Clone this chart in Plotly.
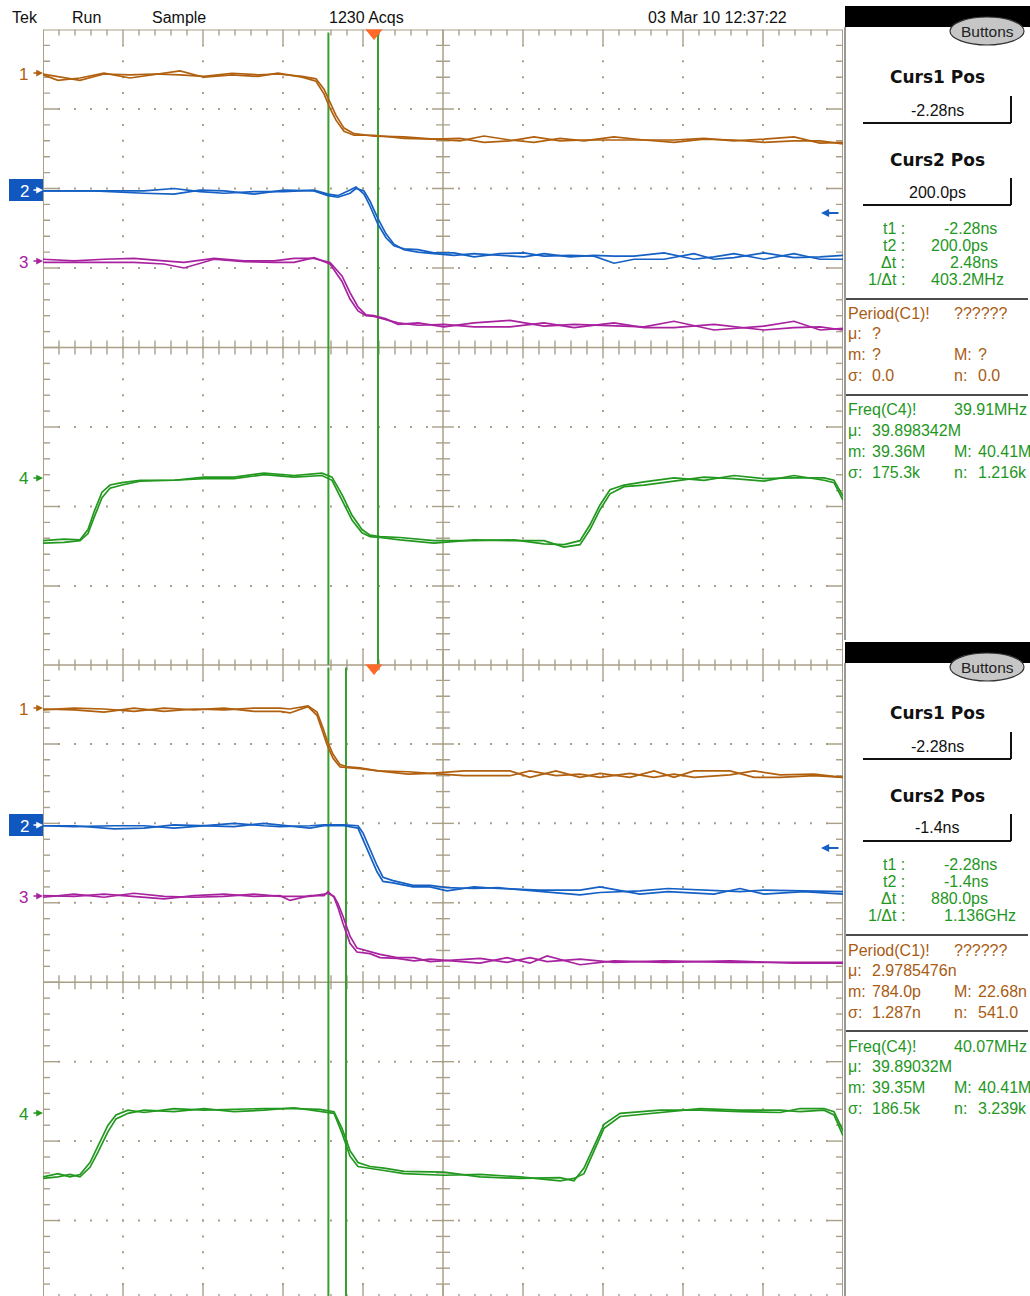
import plotly.graph_objects as go

W, H = 1030, 1296

# ---------------- scope settings (4 ns/div, trigger at t = 0) ----------------
T_LEFT, T_RIGHT = -16.55, 23.45
CH_POS = [3.44, 1.97, 1.08, -1.64]          # ground markers (div)
CURSOR_TOP = [-2.28, 0.200]                 # ns
CURSOR_BOT = [-2.28, -1.40]                 # ns
TRIGGER_T = 0.0
CH_NAMES = ["1", "2", "3", "4"]

# ---------------- waveform data (time in ns, level in div rel. to marker) ----------------
T1_TOP = [-16.55, -15.8, -14.7, -13.5, -12.2, -11.0, -9.7, -8.5, -7.1, -5.8, -4.8, -3.6, -2.9, -2.5, -2.2, -1.9,
          -1.5, -1.0, 0.0, 1.5, 3.0, 4.3, 5.5, 6.8, 8.0, 9.3, 10.5, 12.0, 13.5, 15.0, 16.5, 18.0, 19.5, 21.0, 22.3, 23.45]
CH1_TOP_A = [0, -0.03, -0.08, 0, -0.01, 0, -0.01, -0.03, 0.01, -0.01, 0, -0.03, -0.06, -0.19, -0.36, -0.52, -0.68,
             -0.75, -0.78, -0.79, -0.82, -0.84, -0.78, -0.83, -0.86, -0.81, -0.84, -0.79, -0.83, -0.83, -0.81, -0.84,
             -0.82, -0.79, -0.87, -0.86]
CH1_TOP_B = [-0.01, -0.08, -0.05, 0.01, -0.05, -0.01, 0.04, -0.04, -0.01, -0.03, 0.01, -0.04, -0.09, -0.25, -0.43,
             -0.58, -0.72, -0.77, -0.77, -0.81, -0.82, -0.81, -0.86, -0.84, -0.79, -0.84, -0.83, -0.83, -0.83, -0.86,
             -0.82, -0.83, -0.86, -0.84, -0.84, -0.88]

T2_TOP = [-16.55, -14.0, -11.5, -10.0, -8.7, -7.5, -6.0, -4.5, -3.0, -2.3, -1.8, -1.2, -0.9, -0.5, -0.2, 0.2, 0.6,
          1.0, 1.5, 2.2, 3.0, 4.0, 5.0, 6.3, 7.5, 8.5, 9.8, 11.0, 12.0, 13.0, 14.5, 16.0, 17.0, 18.0, 19.5, 21.0, 22.3, 23.45]
CH2_TOP_A = [0, 0, 0, 0.03, -0.01, -0.03, -0.01, -0.01, 0.01, -0.04, -0.06, 0.01, 0.05, -0.04, -0.19, -0.42, -0.59,
             -0.69, -0.73, -0.74, -0.78, -0.78, -0.83, -0.79, -0.78, -0.82, -0.81, -0.82, -0.91, -0.86, -0.86, -0.79,
             -0.86, -0.84, -0.78, -0.84, -0.83, -0.81]
CH2_TOP_B = [0, 0, -0.03, -0.04, 0.01, 0, -0.04, 0.01, 0, -0.06, -0.08, -0.03, 0.03, 0, -0.13, -0.35, -0.54, -0.67,
             -0.74, -0.77, -0.79, -0.81, -0.79, -0.81, -0.83, -0.79, -0.83, -0.81, -0.82, -0.82, -0.78, -0.86, -0.83,
             -0.79, -0.86, -0.79, -0.86, -0.86]

T3_TOP = [-16.55, -15.0, -13.5, -12.0, -10.5, -9.5, -8.0, -6.5, -5.0, -4.0, -3.0, -2.2, -1.6, -1.2, -0.8, -0.4, 0.0,
          0.6, 1.2, 2.2, 3.5, 5.0, 6.8, 8.5, 10.0, 12.0, 13.5, 15.0, 17.0, 19.5, 21.0, 22.3, 23.45]
CH3_TOP_A = [0.03, 0.01, 0.03, 0.04, 0.01, -0.01, 0.04, 0.01, 0.01, 0.04, 0.04, -0.01, -0.18, -0.39, -0.57, -0.67,
             -0.68, -0.72, -0.79, -0.77, -0.82, -0.77, -0.74, -0.81, -0.79, -0.81, -0.82, -0.75, -0.86, -0.81, -0.75,
             -0.86, -0.84]
CH3_TOP_B = [-0.01, -0.01, -0.01, -0.01, -0.03, -0.08, 0.03, 0, -0.01, -0.01, 0.05, -0.03, -0.25, -0.47, -0.62, -0.68,
             -0.69, -0.73, -0.77, -0.8, -0.79, -0.82, -0.82, -0.77, -0.83, -0.77, -0.83, -0.83, -0.79, -0.86, -0.83,
             -0.82, -0.86]

T4_TOP = [-16.55, -15.5, -14.7, -14.3, -14.0, -13.6, -13.2, -12.6, -11.7, -10.0, -8.5, -7.0, -5.5, -4.0, -2.6, -2.1,
          -1.6, -1.1, -0.6, -0.2, 0.3, 1.3, 3.0, 5.0, 7.0, 8.5, 9.5, 10.3, 10.8, 11.3, 11.8, 12.5, 13.5, 15.0, 16.5,
          18.0, 19.5, 21.0, 22.5, 23.0, 23.45]
CH4_TOP_A = [-0.79, -0.77, -0.78, -0.65, -0.43, -0.18, -0.09, -0.06, -0.03, -0.03, 0.01, 0.01, 0.06, 0.03, 0.06, 0.01,
             -0.21, -0.47, -0.65, -0.72, -0.74, -0.75, -0.79, -0.79, -0.78, -0.83, -0.84, -0.79, -0.59, -0.34, -0.15,
             -0.09, -0.05, 0, -0.03, 0.03, -0.01, 0, 0, -0.03, -0.23]
CH4_TOP_B = [-0.82, -0.81, -0.79, -0.7, -0.5, -0.25, -0.13, -0.09, -0.04, -0.03, -0.01, -0.01, 0.04, 0.01, 0.03, -0.03,
             -0.28, -0.53, -0.69, -0.74, -0.75, -0.78, -0.82, -0.78, -0.79, -0.79, -0.87, -0.84, -0.65, -0.4, -0.2,
             -0.11, -0.09, -0.04, 0.01, -0.01, -0.04, 0.03, -0.03, -0.06, -0.28]

T1_BOT = [-16.55, -15.0, -13.5, -12.0, -10.5, -9.0, -7.5, -6.0, -4.7, -4.2, -3.3, -2.85, -2.55, -2.35, -2.05, -1.7,
          -1.3, -0.7, 0.2, 1.7, 2.8, 4.5, 6.8, 7.8, 9.1, 10.3, 11.3, 12.8, 14.0, 15.0, 16.0, 17.8, 19.0, 20.3, 22.0, 23.45]
CH1_BOT_A = [0, -0.01, -0.04, 0.01, -0.03, 0, -0.01, 0.01, 0.01, 0, 0.04, -0.04, -0.24, -0.39, -0.57, -0.7, -0.73,
             -0.74, -0.78, -0.82, -0.81, -0.78, -0.78, -0.86, -0.78, -0.86, -0.81, -0.86, -0.78, -0.86, -0.78, -0.78,
             -0.86, -0.86, -0.84, -0.86]
CH1_BOT_B = [-0.01, 0.01, 0, -0.03, 0.01, -0.01, 0.01, -0.03, -0.03, -0.05, 0.03, -0.08, -0.30, -0.45, -0.62, -0.73,
             -0.74, -0.75, -0.78, -0.79, -0.81, -0.84, -0.84, -0.78, -0.84, -0.82, -0.86, -0.81, -0.86, -0.82, -0.86,
             -0.83, -0.78, -0.83, -0.82, -0.86]

T2_BOT = [-16.55, -15.0, -13.0, -11.5, -10.0, -8.5, -7.0, -5.5, -4.7, -3.2, -2.5, -1.5, -0.8, -0.55, -0.2, 0.15, 0.45,
          0.95, 1.95, 2.8, 3.65, 5.0, 6.2, 8.3, 10.3, 11.3, 13.3, 14.7, 17.0, 18.3, 19.5, 21.5, 23.45]
CH2_BOT_A = [0, 0, -0.04, -0.03, 0.01, 0, -0.01, 0.03, 0.01, -0.03, 0, 0, -0.03, -0.18, -0.39, -0.58, -0.70, -0.72,
             -0.77, -0.77, -0.82, -0.77, -0.79, -0.81, -0.81, -0.77, -0.86, -0.83, -0.86, -0.79, -0.86, -0.83, -0.86]
CH2_BOT_B = [0, -0.01, 0, 0, -0.03, 0, 0.03, 0, -0.01, 0, 0.01, 0.01, 0, -0.09, -0.30, -0.50, -0.65, -0.69, -0.75,
             -0.75, -0.78, -0.79, -0.78, -0.83, -0.87, -0.84, -0.82, -0.79, -0.82, -0.83, -0.81, -0.82, -0.83]

T3_BOT = [-16.55, -15.0, -13.5, -12.0, -10.5, -9.0, -7.5, -6.0, -4.7, -4.2, -3.2, -2.5, -2.3, -2.0, -1.8, -1.55, -1.2,
          -0.85, -0.2, 0.3, 1.15, 2.0, 2.8, 5.3, 6.65, 7.8, 8.65, 10.3, 12.0, 14.5, 17.8, 21.0, 23.45]
CH3_BOT_A = [0.01, 0, 0.03, 0, -0.03, 0.01, 0.03, 0, 0.01, -0.05, 0.01, 0.01, 0.06, -0.01, -0.14, -0.34, -0.59, -0.70,
             -0.72, -0.77, -0.78, -0.81, -0.79, -0.84, -0.77, -0.84, -0.75, -0.86, -0.81, -0.83, -0.81, -0.84, -0.84]
CH3_BOT_B = [-0.01, 0.03, -0.01, 0.04, 0, -0.01, 0, 0.03, 0, 0, 0, 0.03, 0.04, 0, -0.09, -0.25, -0.5, -0.65, -0.69,
             -0.73, -0.77, -0.77, -0.82, -0.78, -0.83, -0.77, -0.82, -0.79, -0.83, -0.81, -0.83, -0.83, -0.83]

T4_BOT = [-16.55, -15.8, -15.2, -14.7, -14.2, -13.8, -13.3, -12.9, -12.3, -11.5, -10.0, -8.5, -7.0, -5.5, -4.0, -2.7,
          -2.0, -1.6, -1.2, -0.8, -0.2, 0.5, 1.5, 3.5, 5.3, 7.3, 9.3, 10.0, 10.5, 11.0, 11.5, 12.3, 14.3, 16.3, 18.3,
          20.3, 21.3, 22.5, 23.0, 23.45]
CH4_BOT_A = [-0.81, -0.77, -0.81, -0.78, -0.63, -0.42, -0.16, -0.03, 0.03, 0, 0.05, 0.03, 0.04, 0.05, 0.05, 0.04, 0.01,
             -0.2, -0.48, -0.63, -0.68, -0.7, -0.74, -0.75, -0.81, -0.83, -0.82, -0.86, -0.7, -0.42, -0.15, -0.01, 0.03,
             0.03, 0.01, 0, 0.05, 0.05, 0.01, -0.23]
CH4_BOT_B = [-0.83, -0.81, -0.78, -0.81, -0.69, -0.5, -0.24, -0.08, -0.01, 0.03, 0.01, 0.05, 0.01, 0.03, 0.06, 0.01,
             -0.01, -0.26, -0.55, -0.68, -0.7, -0.73, -0.77, -0.79, -0.78, -0.81, -0.86, -0.83, -0.77, -0.48, -0.2,
             -0.05, 0, 0.05, 0.03, 0.03, 0.01, 0.03, -0.03, -0.29]

# ---------------- readout texts ----------------
HEADER = ["Tek", "Run", "Sample", "1230 Acqs", "03 Mar 10 12:37:22"]
CURS1_POS = ["-2.28ns", "-2.28ns"]
CURS2_POS = ["200.0ps", "-1.4ns"]
READ_LABELS = ["t1 :", "t2 :", "\u0394t :", "1/\u0394t :"]
READ_TOP = ["-2.28ns", "200.0ps", "2.48ns", "403.2MHz"]
READ_BOT = ["-2.28ns", "-1.4ns", "880.0ps", "1.136GHz"]
PERIOD_TOP = ["??????", "?", "?", "?", "0.0", "0.0"]
PERIOD_BOT = ["??????", "2.9785476n", "784.0p", "22.68n", "1.287n", "541.0"]
FREQ_TOP = ["39.91MHz", "39.898342M", "39.36M", "40.41M", "175.3k", "1.216k"]
FREQ_BOT = ["40.07MHz", "39.89032M", "39.35M", "40.41M", "186.5k", "3.239k"]

# ---------------- styling ----------------
COLORS = ["#b0600e", "#1560c4", "#a8229f", "#22981f"]
TXT_BROWN = "#a85c14"
TXT_GREEN = "#1f971f"
GRID = "#aaa088"
CURSOR = "#38a030"
TRIG = "#ff6a28"
FONT = "Liberation Sans, Arial, sans-serif"
BOLD_FONT = "DejaVu Sans, Liberation Sans, sans-serif"

XPX = (T_RIGHT - T_LEFT) / 800.0   # ns per pixel
YPX = 8.0 / 636.0                  # div per pixel

fig = go.Figure()
shapes = []
annos = []


def px(x):
    return x / W


def py(y):
    return 1 - y / H


def graticule(xa, ya):
    tx, ty = [], []
    for k in range(1, 50):
        t = T_LEFT + 0.8 * k
        major = (k % 5 == 0)
        L = 15 if major else 6
        tx += [t, t, None, t, t, None]
        ty += [4, 4 - L * YPX, None, -4, -4 + L * YPX, None]
        if k != 25:
            c = 11 if major else 7
            tx += [t, t, None]
            ty += [-c * YPX, c * YPX, None]
    for k in range(1, 40):
        y = -4 + 0.2 * k
        major = (k % 5 == 0)
        L = 16 if major else 7
        tx += [T_LEFT, T_LEFT + L * XPX, None, T_RIGHT, T_RIGHT - L * XPX, None]
        ty += [y, y, None, y, y, None]
        if k != 20:
            c = 11 if major else 7
            tc = T_LEFT + 20
            tx += [tc - c * XPX, tc + c * XPX, None]
            ty += [y, y, None]
    fig.add_trace(go.Scatter(x=tx, y=ty, mode="lines", line=dict(color=GRID, width=1.4),
                             xaxis=xa, yaxis=ya, hoverinfo="skip"))
    dx, dy = [], []
    for j in range(1, 10):
        if j == 5:
            continue
        t = T_LEFT + 4 * j
        for k in range(1, 40):
            dx.append(t)
            dy.append(-4 + 0.2 * k)
    for m in range(-3, 4):
        if m == 0:
            continue
        for k in range(1, 50):
            dx.append(T_LEFT + 0.8 * k)
            dy.append(m)
    fig.add_trace(go.Scatter(x=dx, y=dy, mode="markers",
                             marker=dict(color=GRID, size=2, symbol="square", line=dict(width=0)),
                             xaxis=xa, yaxis=ya, hoverinfo="skip"))
    tc = T_LEFT + 20
    fig.add_trace(go.Scatter(x=[T_LEFT, T_RIGHT, None, tc, tc], y=[0, 0, None, -4, 4], mode="lines",
                             line=dict(color=GRID, width=1.5), xaxis=xa, yaxis=ya, hoverinfo="skip"))
    fig.add_trace(go.Scatter(x=[T_LEFT, T_LEFT, None, T_RIGHT, T_RIGHT, None, T_LEFT, T_RIGHT, None, T_LEFT, T_RIGHT],
                             y=[-4, 4, None, -4, 4, None, 4, 4, None, -4, -4], mode="lines",
                             line=dict(color=GRID, width=2), xaxis=xa, yaxis=ya, hoverinfo="skip"))


def screen(xa, ya, cursors, waves, ylo):
    graticule(xa, ya)
    for c in cursors:
        fig.add_trace(go.Scatter(x=[c, c], y=[ylo, 4 - 3 * YPX], mode="lines",
                                 line=dict(color=CURSOR, width=2), xaxis=xa, yaxis=ya, hoverinfo="skip"))
    for i, (t, a, b) in enumerate(waves):
        for series in (a, b):
            fig.add_trace(go.Scatter(x=t, y=[CH_POS[i] + v for v in series], mode="lines",
                                     line=dict(color=COLORS[i], width=1.7), xaxis=xa, yaxis=ya,
                                     hoverinfo="skip"))
    xr = "x" if xa == "x" else "x2"
    yr = "y" if ya == "y" else "y2"
    shapes.append(dict(type="path", xref=xr, yref=yr,
                       path=f"M {TRIGGER_T - 8 * XPX},{4} L {TRIGGER_T + 8 * XPX},{4} "
                            f"L {TRIGGER_T},{4 - 10 * YPX} Z",
                       fillcolor=TRIG, line=dict(color=TRIG, width=1)))


screen("x", "y", CURSOR_TOP,
       [(T1_TOP, CH1_TOP_A, CH1_TOP_B), (T2_TOP, CH2_TOP_A, CH2_TOP_B),
        (T3_TOP, CH3_TOP_A, CH3_TOP_B), (T4_TOP, CH4_TOP_A, CH4_TOP_B)], -4)
screen("x2", "y2", CURSOR_BOT,
       [(T1_BOT, CH1_BOT_A, CH1_BOT_B), (T2_BOT, CH2_BOT_A, CH2_BOT_B),
        (T3_BOT, CH3_BOT_A, CH3_BOT_B), (T4_BOT, CH4_BOT_A, CH4_BOT_B)], -3.95)


def txt(x, y, s, color="#111111", size=16, anchor="left", bold=False, family=FONT):
    annos.append(dict(x=px(x), y=py(y), xref="paper", yref="paper", text=(f"<b>{s}</b>" if bold else s),
                      showarrow=False, xanchor=anchor, yanchor="middle",
                      font=dict(family=family, size=size, color=color)))


def arrow(x_head, y, length, color, width=1.5):
    annos.append(dict(x=px(x_head), y=py(y), xref="paper", yref="paper", text="", showarrow=True,
                      ax=length, ay=0, arrowhead=2, arrowsize=0.9, arrowwidth=width, arrowcolor=color))


def line(x0, y0, x1, y1, color="#111111", width=1.5):
    shapes.append(dict(type="line", xref="paper", yref="paper", x0=px(x0), y0=py(y0), x1=px(x1), y1=py(y1),
                       line=dict(color=color, width=width)))


# header
for s, x in zip(HEADER, [10, 70, 150, 327, 646]):
    txt(x, 17, s, size=16)

# channel markers (both screens)
MARK_Y = [73, 190, 261, 478]
for off in (0, 635):
    for i, yy in enumerate(MARK_Y):
        y = yy + off
        if i == 1:
            shapes.append(dict(type="rect", xref="paper", yref="paper", x0=px(9), x1=px(43), y0=py(201 + off),
                               y1=py(179 + off), fillcolor="#1057c0", line=dict(width=0)))
            txt(24, y + 1, CH_NAMES[i], color="white", size=17, anchor="center")
            arrow(43, y, -11, "white")
        else:
            txt(23, y + 1, CH_NAMES[i], color=COLORS[i], size=17, anchor="center")
            arrow(43, y, -11, COLORS[i])
    arrow(821, 213 + off, 19, COLORS[1], width=1.8)


def panel(off, c1, c2, readout, rx, period, freq):
    shapes.append(dict(type="rect", xref="paper", yref="paper", x0=px(845), x1=px(1030), y0=py(27 + off),
                       y1=py(6 + off), fillcolor="black", line=dict(width=0)))
    line(845, 27 + off, 845, 640 + off if off == 0 else 1296, color="#555555", width=1.2)
    shapes.append(dict(type="circle", xref="paper", yref="paper", x0=px(950), x1=px(1024), y0=py(45 + off),
                       y1=py(17 + off), fillcolor="#c6c6c6", line=dict(color="#333333", width=1.2)))
    txt(987, 31 + off, "Buttons", color="#222222", size=15.5, anchor="center")
    txt(937, 77 + off, "Curs1 Pos", size=17, anchor="center", bold=True, family=BOLD_FONT)
    txt(937, 110 + off, c1, size=16, anchor="center")
    line(863, 123 + off, 1011, 123 + off, width=2)
    line(1011, 96 + off, 1011, 123 + off, width=2)
    txt(937, 160 + off, "Curs2 Pos", size=17, anchor="center", bold=True, family=BOLD_FONT)
    txt(937, 192 + off, c2, size=16, anchor="center")
    line(863, 205 + off, 1011, 205 + off, width=2)
    line(1011, 178 + off, 1011, 205 + off, width=2)
    for k, (lab, val) in enumerate(zip(READ_LABELS, readout)):
        yy = 228 + 17.3 * k + off
        txt(907, yy, lab, color=TXT_GREEN, size=16, anchor="right")
        txt(rx[k], yy, val, color=TXT_GREEN, size=16)
    line(846, 299 + off, 1028, 299 + off, width=1.5)
    txt(846, 314 + off, "Period(C1)!", color=TXT_BROWN, size=16)
    txt(952, 314 + off, period[0], color=TXT_BROWN, size=16)
    txt(846, 334 + off, "\u03bc:", color=TXT_BROWN, size=16)
    txt(870, 334 + off, period[1], color=TXT_BROWN, size=16)
    txt(846, 355 + off, "m:", color=TXT_BROWN, size=16)
    txt(870, 355 + off, period[2], color=TXT_BROWN, size=16)
    txt(952, 355 + off, "M:", color=TXT_BROWN, size=16)
    txt(976, 355 + off, period[3], color=TXT_BROWN, size=16)
    txt(846, 376 + off, "\u03c3:", color=TXT_BROWN, size=16)
    txt(870, 376 + off, period[4], color=TXT_BROWN, size=16)
    txt(952, 376 + off, "n:", color=TXT_BROWN, size=16)
    txt(976, 376 + off, period[5], color=TXT_BROWN, size=16)
    line(846, 395 + off, 1028, 395 + off, width=1.5)
    txt(846, 410 + off, "Freq(C4)!", color=TXT_GREEN, size=16)
    txt(952, 410 + off, freq[0], color=TXT_GREEN, size=16)
    txt(846, 430 + off, "\u03bc:", color=TXT_GREEN, size=16)
    txt(870, 430 + off, freq[1], color=TXT_GREEN, size=16)
    txt(846, 451 + off, "m:", color=TXT_GREEN, size=16)
    txt(870, 451 + off, freq[2], color=TXT_GREEN, size=16)
    txt(952, 451 + off, "M:", color=TXT_GREEN, size=16)
    txt(976, 451 + off, freq[3], color=TXT_GREEN, size=16)
    txt(846, 472 + off, "\u03c3:", color=TXT_GREEN, size=16)
    txt(870, 472 + off, freq[4], color=TXT_GREEN, size=16)
    txt(952, 472 + off, "n:", color=TXT_GREEN, size=16)
    txt(976, 472 + off, freq[5], color=TXT_GREEN, size=16)


panel(0, CURS1_POS[0], CURS2_POS[0], READ_TOP, [942, 929, 948, 929], PERIOD_TOP, FREQ_TOP)
panel(636, CURS1_POS[1], CURS2_POS[1], READ_BOT, [942, 942, 929, 942], PERIOD_BOT, FREQ_BOT)

ax_common = dict(visible=False, showgrid=False, zeroline=False, fixedrange=True)
fig.update_layout(
    width=W, height=H, margin=dict(l=0, r=0, t=0, b=0),
    paper_bgcolor="white", plot_bgcolor="rgba(0,0,0,0)",
    showlegend=False, hovermode=False,
    xaxis=dict(domain=[px(43), px(843)], range=[T_LEFT, T_RIGHT], anchor="y", **ax_common),
    yaxis=dict(domain=[py(665.5), py(29.5)], range=[-4, 4], anchor="x", **ax_common),
    xaxis2=dict(domain=[px(43), px(843)], range=[T_LEFT, T_RIGHT], anchor="y2", **ax_common),
    yaxis2=dict(domain=[0, py(664.5)], range=[-3.95, 4], anchor="x2", **ax_common),
    shapes=shapes, annotations=annos,
)

fig.write_html("out.html")
